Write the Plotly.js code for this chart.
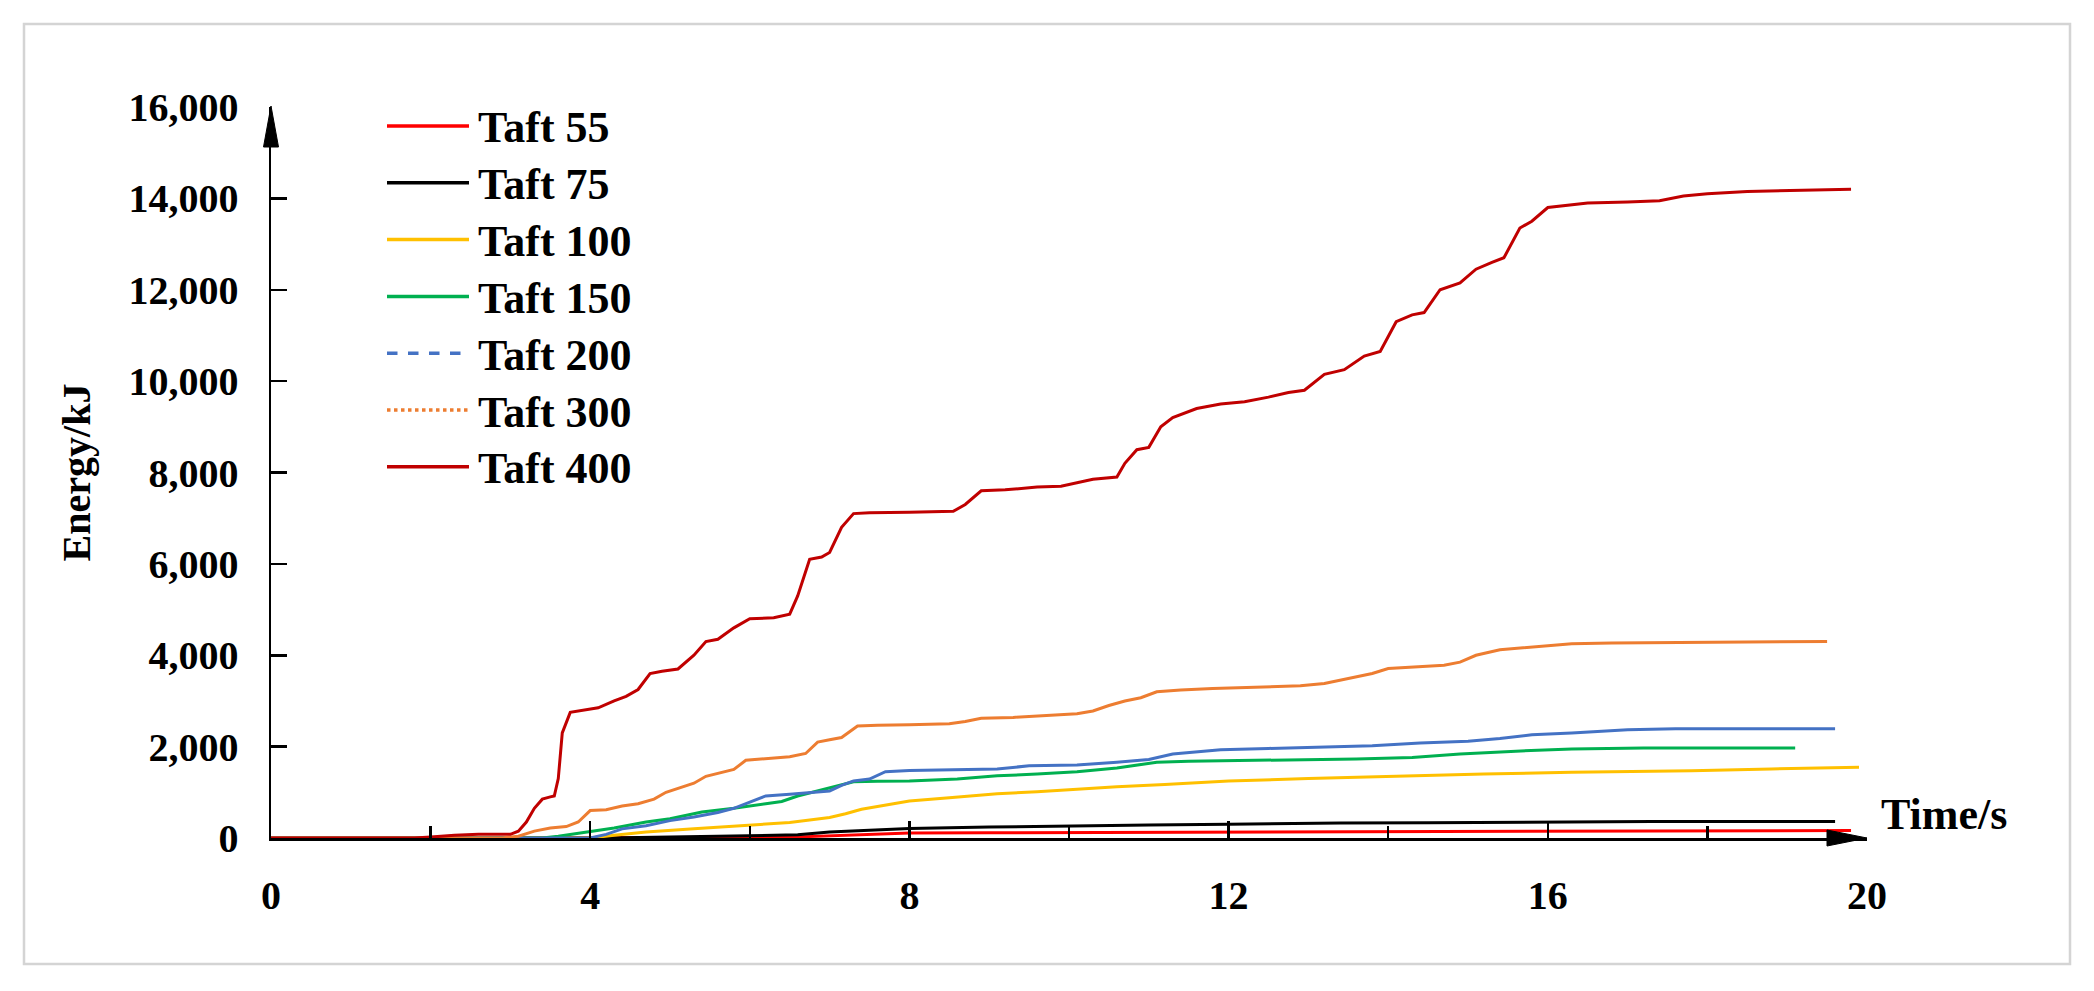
<!DOCTYPE html>
<html>
<head>
<meta charset="utf-8">
<script src="https://cdn.plot.ly/plotly-3.0.1.min.js"></script>
<style>html,body{margin:0;padding:0;background:#fff;}#chart{width:2094px;height:991px;}</style>
</head>
<body>
<div id="chart"></div>
<script>
// ---- data ----
const seriesNames = ["Taft 55", "Taft 75", "Taft 100", "Taft 150", "Taft 200", "Taft 300", "Taft 400"];
const seriesColors = ["#FF0000", "#000000", "#FFC000", "#00B050", "#4472C4", "#ED7D31", "#C00000"];
const legendDash = ["solid", "solid", "solid", "solid", "dash", "dot", "solid"];

const t55 = [0, 5.5, 6.0, 6.7, 7.0, 7.5, 8.0, 9.0, 10.0, 12.0, 14.0, 16.0, 17.5, 18.0, 19.8];
const e55 = [0, 0, 10, 30, 50, 90, 110, 115, 120, 130, 140, 145, 150, 160, 165];

const t75 = [0, 4.2, 5.0, 6.0, 6.6, 7.0, 7.5, 8.0, 9.0, 10.0, 11.0, 12.0, 13.4, 14.5, 16.0, 17.3, 19.6];
const e75 = [0, 0, 20, 50, 70, 130, 170, 210, 240, 270, 285, 300, 330, 335, 350, 360, 360];

const t100 = [0, 4.0, 4.3, 4.7, 5.3, 5.9, 6.5, 7.0, 7.2, 7.4, 7.7, 8.0, 8.5, 9.1, 9.6, 10.1, 10.6, 11.2, 12.0, 13.0, 14.2, 15.2, 16.3, 17.8, 18.8, 19.9];
const e100 = [0, 0, 60, 130, 200, 270, 340, 450, 530, 630, 720, 810, 880, 970, 1010, 1070, 1120, 1170, 1250, 1300, 1360, 1400, 1440, 1470, 1510, 1550];

const t150 = [0, 3.4, 3.6, 3.8, 4.0, 4.3, 4.7, 5.0, 5.4, 5.8, 6.2, 6.4, 6.6, 7.0, 7.3, 7.6, 8.0, 8.6, 9.1, 9.6, 10.1, 10.6, 11.1, 11.5, 12.0, 13.0, 13.6, 14.3, 14.9, 15.6, 16.3, 17.2, 18.0, 19.1];
const e150 = [0, 0, 40, 90, 130, 220, 350, 420, 570, 650, 750, 800, 920, 1100, 1230, 1240, 1250, 1290, 1360, 1400, 1450, 1530, 1660, 1680, 1690, 1710, 1730, 1760, 1840, 1900, 1950, 1970, 1970, 1970];

const t200 = [0, 4.0, 4.2, 4.4, 4.7, 5.0, 5.3, 5.6, 5.8, 6.0, 6.2, 6.5, 7.0, 7.15, 7.3, 7.5, 7.7, 8.0, 8.5, 9.1, 9.5, 10.1, 10.6, 11.0, 11.3, 11.9, 12.5, 13.0, 13.8, 14.4, 15.0, 15.4, 15.8, 16.3, 17.0, 17.6, 19.6];
const e200 = [0, 0, 80, 200, 270, 380, 460, 560, 650, 790, 920, 960, 1030, 1150, 1250, 1290, 1450, 1480, 1490, 1510, 1580, 1600, 1660, 1720, 1840, 1930, 1960, 1980, 2020, 2080, 2120, 2180, 2260, 2300, 2370, 2390, 2390];

const t300 = [0, 2.9, 3.1, 3.3, 3.5, 3.7, 3.85, 4.0, 4.2, 4.4, 4.6, 4.8, 4.95, 5.1, 5.3, 5.45, 5.6, 5.8, 5.95, 6.2, 6.5, 6.7, 6.85, 7.0, 7.15, 7.35, 7.6, 8.0, 8.5, 8.7, 8.9, 9.3, 9.7, 10.1, 10.3, 10.5, 10.7, 10.9, 11.1, 11.4, 11.8, 12.2, 12.6, 12.9, 13.2, 13.4, 13.6, 13.8, 14.0, 14.3, 14.7, 14.9, 15.1, 15.4, 15.8, 16.3, 16.8, 17.5, 18.5, 19.5];
const e300 = [0, 0, 40, 150, 220, 250, 350, 600, 620, 700, 750, 850, 1000, 1080, 1200, 1350, 1420, 1500, 1700, 1730, 1780, 1850, 2100, 2150, 2200, 2450, 2470, 2480, 2500, 2550, 2620, 2640, 2680, 2720, 2780, 2900, 3000, 3070, 3200, 3240, 3270, 3290, 3310, 3330, 3380, 3450, 3530, 3600, 3710, 3740, 3780, 3850, 4000, 4120, 4180, 4250, 4270, 4280, 4290, 4300];

const t400 = [0, 1.8, 2.0, 2.3, 2.6, 3.0, 3.1, 3.2, 3.3, 3.4, 3.5, 3.55, 3.6, 3.65, 3.75, 3.9, 4.1, 4.3, 4.45, 4.6, 4.75, 4.9, 5.1, 5.3, 5.45, 5.6, 5.8, 6.0, 6.3, 6.5, 6.6, 6.75, 6.9, 7.0, 7.15, 7.3, 7.5, 8.0, 8.55, 8.7, 8.9, 9.2, 9.6, 9.9, 10.3, 10.6, 10.7, 10.85, 11.0, 11.15, 11.3, 11.6, 11.9, 12.2, 12.5, 12.75, 12.95, 13.2, 13.45, 13.7, 13.9, 14.1, 14.3, 14.45, 14.65, 14.9, 15.1, 15.3, 15.45, 15.65, 15.8, 16.0, 16.5, 17.0, 17.4, 17.7, 18.0, 18.5, 19.8];
const e400 = [0, 0, 20, 60, 80, 80, 150, 350, 650, 850, 900, 920, 1300, 2300, 2750, 2800, 2850, 3000, 3100, 3250, 3600, 3650, 3700, 4000, 4300, 4350, 4600, 4800, 4820, 4900, 5300, 6100, 6150, 6250, 6800, 7100, 7120, 7130, 7150, 7300, 7600, 7620, 7680, 7700, 7850, 7900, 8200, 8500, 8550, 9000, 9200, 9400, 9500, 9550, 9650, 9750, 9800, 10150, 10250, 10550, 10650, 11300, 11450, 11500, 12000, 12150, 12450, 12600, 12700, 13350, 13500, 13800, 13900, 13920, 13950, 14050, 14100, 14150, 14200];

const seriesT = [t55, t75, t100, t150, t200, t300, t400];
const seriesE = [e55, e75, e100, e150, e200, e300, e400];

const xTicks = [0, 4, 8, 12, 16, 20];
const xMinorTicks = [2, 6, 10, 14, 18];
const yTicks = [0, 2000, 4000, 6000, 8000, 10000, 12000, 14000, 16000];

// ---- layout geometry (pixels) ----
const W = 2094, H = 991;
const ML = 271, MR = 227, MT = 107, MB = 153;
const PW = W - ML - MR, PH = H - MT - MB;
const px2x = p => (p - ML) / PW;
const py2y = p => (H - MB - p) / PH;

const FONT = "Liberation Serif, Times New Roman, serif";

const traces = seriesNames.map((n, i) => ({
  type: "scatter", mode: "lines", name: n,
  x: seriesT[i], y: seriesE[i],
  line: {color: seriesColors[i], width: 3},
  showlegend: false, hoverinfo: "x+y+name"
}));

// custom legend (long sample lines as in the reference)
const shapes = [];
const annotations = [];
const legLineX0 = 387, legLineX1 = 469, legTextX = 476, legY0 = 126, legStep = 56.8;
seriesNames.forEach((n, i) => {
  const y = legY0 + i * legStep;
  shapes.push({type: "line", xref: "paper", yref: "paper",
    x0: px2x(legLineX0), x1: px2x(legLineX1), y0: py2y(y), y1: py2y(y),
    line: {color: seriesColors[i], width: 3.5, dash: legendDash[i]}});
  annotations.push({xref: "paper", yref: "paper", x: px2x(legTextX), y: py2y(y + 2),
    xanchor: "left", yanchor: "middle", showarrow: false, text: n,
    font: {family: FONT, size: 44, color: "#000", weight: 700}});
});

// axis arrowheads (paper refs so they are not clipped by the plot area)
shapes.push({type: "path", xref: "paper", yref: "paper", xsizemode: "pixel", ysizemode: "pixel",
  xanchor: 1, yanchor: 0, path: "M-40,-8 L0,0 L-40,8 Z",
  fillcolor: "#000", line: {color: "#000", width: 1}});
shapes.push({type: "path", xref: "paper", yref: "paper", xsizemode: "pixel", ysizemode: "pixel",
  xanchor: 0, yanchor: 1, path: "M-7.5,-40 L0,1 L7.5,-40 Z",
  fillcolor: "#000", line: {color: "#000", width: 1}});
// outer light border
shapes.push({type: "rect", xref: "paper", yref: "paper", layer: "below",
  x0: px2x(24), x1: px2x(2070), y0: py2y(964), y1: py2y(24),
  line: {color: "#d4d4d4", width: 2.5}, fillcolor: "rgba(0,0,0,0)"});

annotations.push({xref: "paper", yref: "paper", x: px2x(1879), y: py2y(814), xanchor: "left", yanchor: "middle",
  showarrow: false, text: "Time/s", font: {family: FONT, size: 44, color: "#000", weight: 700}});

const layout = {
  width: W, height: H,
  margin: {l: ML, r: MR, t: MT, b: MB},
  paper_bgcolor: "#ffffff", plot_bgcolor: "#ffffff",
  showlegend: false,
  font: {family: FONT, color: "#000", weight: 700},
  xaxis: {
    range: [0, 20], tickvals: xTicks, ticktext: xTicks.map(String),
    ticks: "inside", ticklen: 17, tickwidth: 2.5, tickcolor: "#000",
    minor: {tickvals: xMinorTicks, ticks: "inside", ticklen: 12, tickwidth: 2.5, tickcolor: "#000"},
    showline: true, linecolor: "#000", linewidth: 2.5,
    showgrid: false, zeroline: false,
    tickfont: {family: FONT, size: 40, color: "#000", weight: 700},
    ticklabelstandoff: 20
  },
  yaxis: {
    range: [0, 16000], tickvals: yTicks, tickformat: ",d",
    ticks: "inside", ticklen: 16, tickwidth: 2.5, tickcolor: "#000",
    showline: true, linecolor: "#000", linewidth: 2.5,
    showgrid: false, zeroline: false,
    tickfont: {family: FONT, size: 40, color: "#000", weight: 700},
    ticklabelstandoff: 22,
    title: {text: "Energy/kJ", standoff: 26, font: {family: FONT, size: 40, color: "#000", weight: 700}}
  },
  shapes: shapes,
  annotations: annotations
};

Plotly.newPlot("chart", traces, layout, {staticPlot: true, displayModeBar: false});
</script>
</body>
</html>
